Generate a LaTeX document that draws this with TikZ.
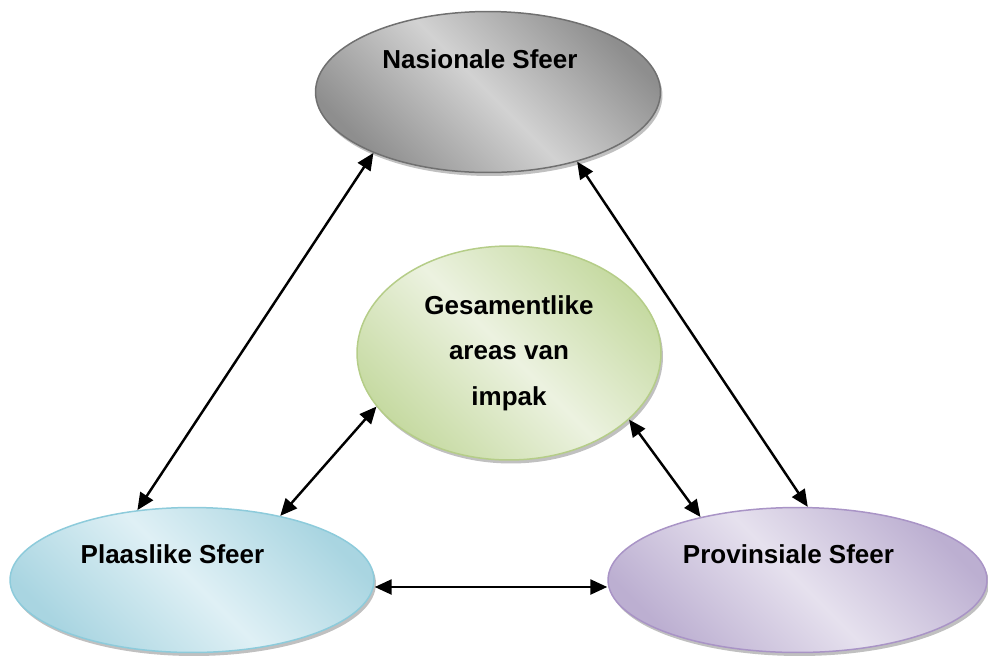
\documentclass[tikz,border=0pt]{standalone}
\usepackage{fontspec}
\setmainfont{Liberation Sans}
\usepackage{xcolor}
\usetikzlibrary{shapes.geometric,arrows.meta,shadows}

\definecolor{grysrand}{HTML}{707070}
\definecolor{grysdonker}{HTML}{8E8E8E}
\definecolor{grysligt}{HTML}{D2D2D2}
\definecolor{groenrand}{HTML}{B5CD88}
\definecolor{groendonker}{HTML}{C6DAA2}
\definecolor{groenligt}{HTML}{ECF2E0}
\definecolor{blourand}{HTML}{8DCBDB}
\definecolor{bloudonker}{HTML}{A9D5E1}
\definecolor{bloligt}{HTML}{DFF0F5}
\definecolor{persrand}{HTML}{A994C6}
\definecolor{persdonker}{HTML}{BCAFD1}
\definecolor{persligt}{HTML}{E6E1EE}

\begin{document}
\begin{tikzpicture}[x=0.02cm, y=-0.02cm,
    sfeer/.style={ellipse, draw, line width=0.85pt, inner sep=0pt, shading angle=-45,
        drop shadow={shadow xshift=0.04cm, shadow yshift=-0.07cm, opacity=0.45, fill=black!55}},
    sfeertks/.style={font=\fontsize{14.8}{26}\selectfont\bfseries, align=center},
    pyl/.style={<->, >={Triangle[length=0.34cm, width=0.3cm]}, line width=1.4pt}]
    \useasboundingbox (0,0) rectangle (988,657);

    % Sfere
    \node[sfeer, draw=grysrand, top color=grysdonker, bottom color=grysdonker, middle color=grysligt,
        shading angle=-45, minimum width=6.9cm, minimum height=3.22cm] (nas) at (488,92) {};
    \node[sfeer, draw=groenrand, top color=groendonker, bottom color=groendonker, middle color=groenligt,
        shading angle=-45, minimum width=6.08cm, minimum height=4.28cm, sfeertks] (ges) at (509,353)
        {Gesamentlike\\areas van\\impak};
    \node[sfeer, draw=blourand, top color=bloudonker, bottom color=bloudonker, middle color=bloligt,
        shading angle=-45, minimum width=7.28cm, minimum height=2.9cm] (pla) at (192,580) {};
    \node[sfeer, draw=persrand, top color=persdonker, bottom color=persdonker, middle color=persligt,
        shading angle=-45, minimum width=7.58cm, minimum height=2.9cm] (prov) at (797.5,580) {};

    % Name
    \node[sfeertks] (nastks) at ([xshift=-0.16cm, yshift=0.65cm]nas.center) {Nasionale Sfeer};
    \node[sfeertks] (platks) at ([xshift=-0.39cm, yshift=0.52cm]pla.center) {Plaaslike Sfeer};
    \node[sfeertks] (provtks) at ([xshift=-0.18cm, yshift=0.52cm]prov.center) {Provinsiale Sfeer};

    % Verbindings
    \draw[pyl] (nas.208.8) -- (pla.128.9);
    \draw[pyl] (nas.322.3) -- (prov.82);
    \draw[pyl] (ges.202.6) -- (pla.36.4);
    \draw[pyl] (ges.331.3) -- (prov.147.2);
    \draw[pyl] ([yshift=-0.14cm]pla.east) -- ([yshift=-0.14cm]prov.west);
\end{tikzpicture}
\end{document}
